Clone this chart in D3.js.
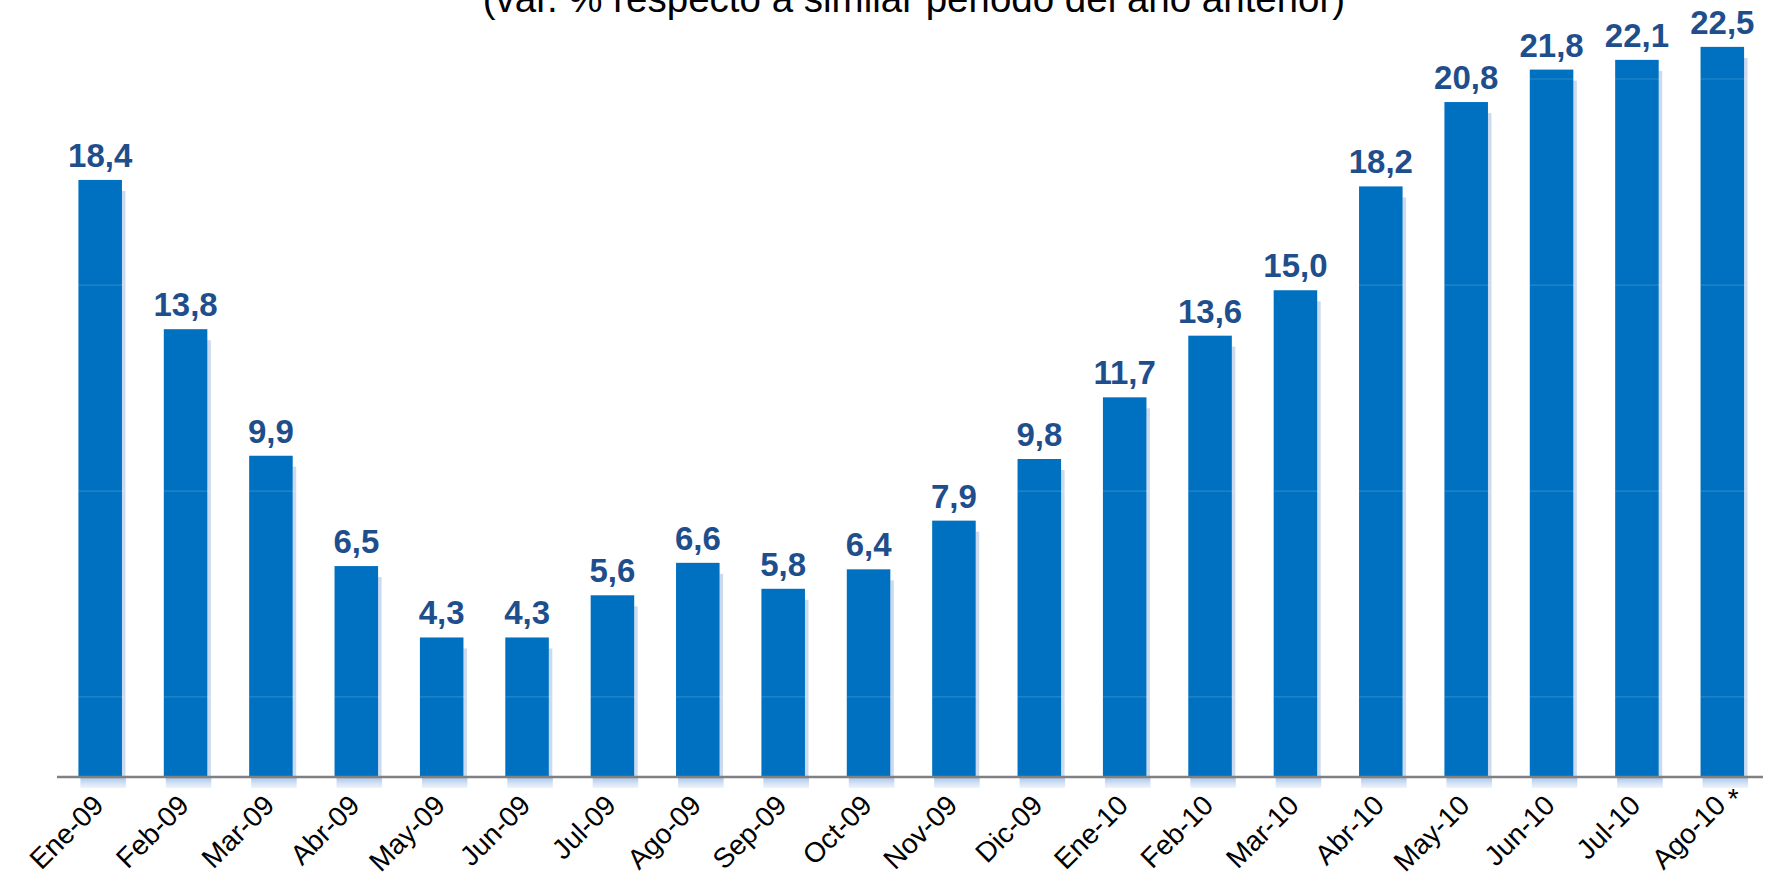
<!DOCTYPE html>
<html>
<head>
<meta charset="utf-8">
<script src="https://cdn.jsdelivr.net/npm/d3@7"></script>
<style>
  html, body { margin: 0; padding: 0; background: #ffffff; }
  svg { display: block; }
</style>
</head>
<body>
<svg id="chart" width="1771" height="879"></svg>
<script>
// ---- data ----
const categories = ["Ene-09","Feb-09","Mar-09","Abr-09","May-09","Jun-09","Jul-09","Ago-09","Sep-09","Oct-09",
                    "Nov-09","Dic-09","Ene-10","Feb-10","Mar-10","Abr-10","May-10","Jun-10","Jul-10","Ago-10"];
const values = [18.4,13.8,9.9,6.5,4.3,4.3,5.6,6.6,5.8,6.4,7.9,9.8,11.7,13.6,15.0,18.2,20.8,21.8,22.1,22.5];
const valueLabels = ["18,4","13,8","9,9","6,5","4,3","4,3","5,6","6,6","5,8","6,4","7,9","9,8","11,7","13,6","15,0","18,2","20,8","21,8","22,1","22,5"];
const footnoteCategory = "Ago-10";
const gridValues = [2.47, 8.81, 15.16, 21.51];
const titleText = "(var. % respecto a similar periodo del año anterior)";

// ---- layout ----
const svg = d3.select("#chart");
const baseY = 777;
const x = d3.scaleBand().domain(categories).range([57.5, 1765]).paddingInner(0.49).paddingOuter(0.245);
const y = d3.scaleLinear().domain([0, 22.5]).range([baseY, baseY - 22.5 * 32.45]);
const font = "'Liberation Sans', Arial, Helvetica, sans-serif";

const defs = svg.append("defs");
const grad = defs.append("linearGradient").attr("id", "refl").attr("x1", 0).attr("y1", 0).attr("x2", 0).attr("y2", 1);
grad.append("stop").attr("offset", "0%").attr("stop-color", "#9dbde6").attr("stop-opacity", 0.95);
grad.append("stop").attr("offset", "100%").attr("stop-color", "#dbe7f6").attr("stop-opacity", 0.5);

// title
svg.append("text")
  .attr("x", 914).attr("y", 12)
  .attr("text-anchor", "middle")
  .attr("font-family", font).attr("font-size", 38.5)
  .attr("fill", "#000")
  .text(titleText);

const data = categories.map((c, i) => ({ c, v: values[i], label: valueLabels[i] }));
const bw = x.bandwidth();

// shadows
svg.append("g").selectAll("rect").data(data).join("rect")
  .attr("x", d => x(d.c) + bw)
  .attr("y", d => y(d.v) + 11)
  .attr("width", 3.5)
  .attr("height", d => baseY - y(d.v) - 11)
  .attr("fill", "#cbdaef");

// reflections
svg.append("g").selectAll("rect").data(data).join("rect")
  .attr("x", d => x(d.c) + 2)
  .attr("y", baseY)
  .attr("width", bw + 2)
  .attr("height", 11)
  .attr("fill", "url(#refl)");

// bars
svg.append("g").selectAll("rect").data(data).join("rect")
  .attr("x", d => x(d.c))
  .attr("y", d => y(d.v))
  .attr("width", bw)
  .attr("height", d => baseY - y(d.v))
  .attr("fill", "#0070c0");

// faint lines through bars
const segs = [];
data.forEach(d => gridValues.forEach(g => { if (g < d.v) segs.push({ c: d.c, g }); }));
svg.append("g").selectAll("line").data(segs).join("line")
  .attr("x1", d => x(d.c)).attr("x2", d => x(d.c) + bw + 3.5)
  .attr("y1", d => y(d.g)).attr("y2", d => y(d.g))
  .attr("stroke", "#ffffff").attr("stroke-opacity", 0.16).attr("stroke-width", 1.2);

// axis line
const axis = d3.axisBottom(x).tickSize(0).tickFormat("");
const axG = svg.append("g").attr("transform", `translate(0,${baseY})`).call(axis);
axG.select(".domain").attr("stroke", "#808080").attr("stroke-width", 2.5)
  .attr("d", "M57,0H1763");

// value labels
svg.append("g").selectAll("text").data(data).join("text")
  .attr("x", d => x(d.c) + bw / 2)
  .attr("y", d => y(d.v) - 13)
  .attr("text-anchor", "middle")
  .attr("font-family", font).attr("font-weight", "bold").attr("font-size", 33)
  .attr("fill", "#1f4e8c")
  .text(d => d.label);

// category labels
svg.append("g").selectAll("text").data(categories).join("text")
  .attr("transform", c => `translate(${x(c) + bw / 2 + 5},807) rotate(-45)`)
  .attr("text-anchor", "end")
  .attr("font-family", font).attr("font-size", 28)
  .attr("fill", "#000")
  .text(c => c);

// footnote asterisk
svg.append("text")
  .attr("x", x(footnoteCategory) + bw / 2 + 11)
  .attr("y", 808)
  .attr("text-anchor", "middle")
  .attr("font-family", font).attr("font-size", 28)
  .attr("fill", "#000")
  .text("*");
</script>
</body>
</html>
